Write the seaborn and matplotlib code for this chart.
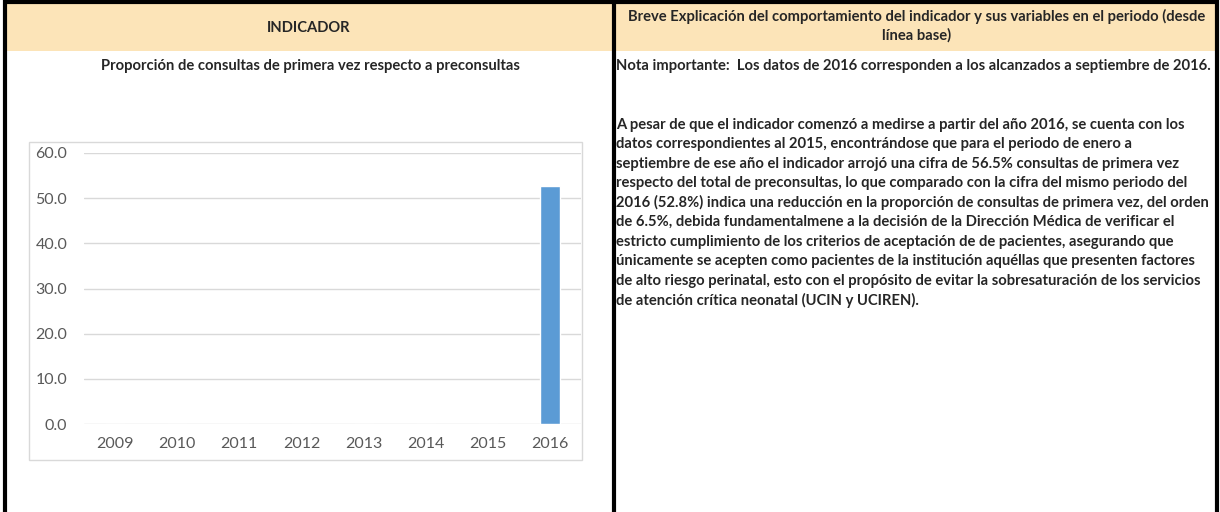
import matplotlib
matplotlib.use("Agg")
import matplotlib.pyplot as plt
import seaborn as sns
import pandas as pd
from matplotlib.patches import Rectangle

# ---- data ----
years = ["2009", "2010", "2011", "2012", "2013", "2014", "2015", "2016"]
values = [0.0, 0.0, 0.0, 0.0, 0.0, 0.0, 0.0, 52.8]
y_ticks = [0, 10, 20, 30, 40, 50, 60]

header_left = "INDICADOR"
header_right = ["Breve Explicación del comportamiento del indicador y sus variables en el periodo (desde",
                "línea base)"]
chart_title = "Proporción de consultas de primera vez respecto a preconsultas"
note = "Nota importante:  Los datos de 2016 corresponden a los alcanzados a septiembre de 2016."
paragraph = [
    "A pesar de que el indicador comenzó a medirse a partir del año 2016, se cuenta con los",
    "datos correspondientes al 2015, encontrándose que para el periodo de enero a",
    "septiembre de ese año el indicador arrojó una cifra de 56.5% consultas de primera vez",
    "respecto del total de preconsultas, lo que comparado con la cifra del mismo periodo del",
    "2016 (52.8%) indica una reducción en la proporción de consultas de primera vez, del orden",
    "de 6.5%, debida fundamentalmene a la decisión de la Dirección Médica de verificar el",
    "estricto cumplimiento de los criterios de aceptación de de pacientes, asegurando que",
    "únicamente se acepten como pacientes de la institución aquéllas que presenten factores",
    "de alto riesgo perinatal, esto con el propósito de evitar la sobresaturación de los servicios",
    "de atención crítica neonatal (UCIN y UCIREN).",
]

sns.set_theme(style="white")
plt.rcParams["font.family"] = ["Lato", "DejaVu Sans"]

W, H = 1220, 512
fig = plt.figure(figsize=(W / 100, H / 100), dpi=100)
fig.patch.set_facecolor("white")
renderer = fig.canvas.get_renderer()

ov = fig.add_axes([0, 0, 1, 1], zorder=0)
ov.set_xlim(0, W)
ov.set_ylim(H, 0)
ov.axis("off")

# header band
ov.add_patch(Rectangle((5, 2), 1212, 49, facecolor="#FCE4B8", edgecolor="none"))
# borders
ov.plot([5, 5], [0, H], color="black", lw=3, solid_capstyle="butt")
ov.plot([1217, 1217], [0, H], color="black", lw=3, solid_capstyle="butt")
ov.plot([614, 614], [0, H], color="black", lw=3, solid_capstyle="butt")
ov.plot([3.5, 1218.5], [1.5, 1.5], color="black", lw=3, solid_capstyle="butt")

# chart frame
ov.add_patch(Rectangle((29, 142), 553, 318, facecolor="white", edgecolor="#D9D9D9", lw=1))

# calibrate bold font size to target width
probe = ov.text(616, 66, note, fontsize=10, fontweight="bold", ha="left", va="center")
w = probe.get_window_extent(renderer).width
bold_size = 10 * 595.0 / w
probe.set_fontsize(bold_size)

ov.text(309, 28, header_left, fontsize=bold_size, fontweight="bold", ha="center", va="center")
ov.text(917, 16, header_right[0], fontsize=bold_size, fontweight="bold", ha="center", va="center")
ov.text(917, 35, header_right[1], fontsize=bold_size, fontweight="bold", ha="center", va="center")
ov.text(310, 66, chart_title, fontsize=bold_size, fontweight="bold", ha="center", va="center")
for i, line in enumerate(paragraph):
    ov.text(616, 125 + i * 19.45, line, fontsize=bold_size, fontweight="bold",
            ha="left", va="center")

# chart axes
x0, x1, ytop, ybot = 84, 581, 153, 424
ax = fig.add_axes([x0 / W, (H - ybot) / H, (x1 - x0) / W, (ybot - ytop) / H], zorder=1)
ax.set_facecolor("none")
df = pd.DataFrame({"year": years, "value": values})
sns.barplot(data=df, x="year", y="value", order=years, color="#5B9BD5",
            saturation=1, width=0.32, ax=ax, errorbar=None)
ax.set_ylim(0, 60)
ax.set_xlim(-0.5, len(years) - 0.5)
ax.set_yticks(y_ticks)
ax.set_yticklabels([f"{v:.1f}" for v in y_ticks])
ax.set_xlabel("")
ax.set_ylabel("")
ax.yaxis.grid(True, color="#D9D9D9", lw=1)
ax.set_axisbelow(True)
for s in ax.spines.values():
    s.set_visible(False)

# tick font size calibrated to "2009" width ~37px
tp = ov.text(0, 0, "2009", fontsize=10)
tw = tp.get_window_extent(renderer).width
tick_size = 10 * 37.0 / tw
tp.remove()
ax.tick_params(axis="both", length=0, labelsize=tick_size, labelcolor="#595959")
ax.tick_params(axis="y", pad=12)
ax.tick_params(axis="x", pad=9)

fig.savefig("out.png", dpi=100)
